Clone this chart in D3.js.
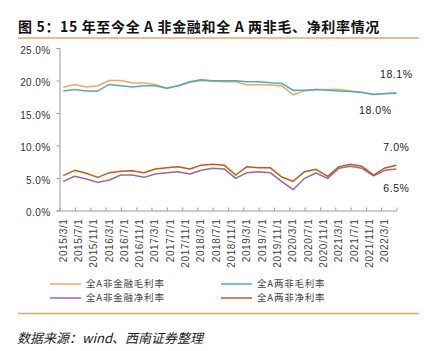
<!DOCTYPE html>
<html><head><meta charset="utf-8">
<script src="https://cdn.jsdelivr.net/npm/d3@7"></script>
<style>
html,body{margin:0;padding:0;background:#fff;}
svg{display:block;}
</style></head>
<body>
<svg id="chart" width="430" height="351"></svg>
<script>
const quarters = ["2015-03-31","2015-06-30","2015-09-30","2015-12-31","2016-03-31","2016-06-30","2016-09-30","2016-12-31","2017-03-31","2017-06-30","2017-09-30","2017-12-31","2018-03-31","2018-06-30","2018-09-30","2018-12-31","2019-03-31","2019-06-30","2019-09-30","2019-12-31","2020-03-31","2020-06-30","2020-09-30","2020-12-31","2021-03-31","2021-06-30","2021-09-30","2021-12-31","2022-03-31","2022-06-30"];
const grossNonFin = [18.95,19.4,19.0,19.2,20.0,20.0,19.6,19.6,19.4,18.8,19.2,19.7,20.0,19.9,19.8,19.8,19.3,19.4,19.3,19.2,17.8,18.4,18.6,18.6,18.6,18.4,18.2,17.9,17.95,18.0];
const grossTwoNon = [18.4,18.6,18.4,18.4,19.4,19.2,19.0,19.2,19.2,18.8,19.2,19.8,20.1,19.95,19.95,19.95,19.8,19.8,19.65,19.55,18.5,18.5,18.6,18.5,18.4,18.3,18.15,17.85,18.0,18.1];
const netNonFin = [4.49,5.26,4.85,4.33,4.69,5.46,5.46,5.10,5.62,5.82,5.97,5.62,6.18,6.5,6.4,4.95,5.82,5.97,5.82,4.49,3.2,4.95,5.77,4.95,6.5,6.8,6.5,5.33,6.18,6.4];
const netTwoNon = [5.36,6.18,5.72,5.10,5.82,6.03,6.13,5.82,6.38,6.59,6.74,6.38,6.98,7.1,6.98,5.46,6.74,6.59,6.59,5.15,4.5,5.97,6.33,5.25,6.75,7.12,6.8,5.43,6.55,6.95];
const seriesNames = ["全A非金融毛利率","全A两非毛利率","全A非金融净利率","全A两非净利率"];
const seriesColors = ["#F9A55A","#4BACC6","#8E6BB0","#C55A11"];
const xTickLabels = ["2015/3/1","2015/7/1","2015/11/1","2016/3/1","2016/7/1","2016/11/1","2017/3/1","2017/7/1","2017/11/1","2018/3/1","2018/7/1","2018/11/1","2019/3/1","2019/7/1","2019/11/1","2020/3/1","2020/7/1","2020/11/1","2021/3/1","2021/7/1","2021/11/1","2022/3/1"];
const yTickValues = [0,5,10,15,20,25];
const yTickLabels = ["0.0%","5.0%","10.0%","15.0%","20.0%","25.0%"];
const endLabels = ["18.0%","18.1%","6.5%","7.0%"];
const title = "图 5：15 年至今全 A 非金融和全 A 两非毛、净利率情况";
const source = "数据来源：wind、西南证券整理";

const svg = d3.select("#chart");
const cjk = "'Noto Sans CJK SC','Noto Sans',sans-serif";
const latin = "'Liberation Sans',Arial,sans-serif";

const parse = d3.timeParse("%Y-%m-%d");
const dates = quarters.map(parse);
const x = d3.scaleTime().domain([new Date(2015,2,1), new Date(2022,6,1)]).range([59.5, 396.5]);
const y = d3.scaleLinear().domain([0,25]).range([210.5, 48]);

// title
svg.append("text").attr("x",18).attr("y",32).attr("font-family",cjk).attr("font-weight","bold")
  .attr("font-size",14).attr("letter-spacing","0.65").attr("fill","#111").text(title);
svg.append("line").attr("x1",18).attr("x2",419).attr("y1",38).attr("y2",38).attr("stroke","#E3A869").attr("stroke-width",1.5);
svg.append("line").attr("x1",18).attr("x2",419).attr("y1",313.5).attr("y2",313.5).attr("stroke","#E3A869").attr("stroke-width",1.5);
svg.append("text").attr("x",17).attr("y",343).attr("font-family",cjk).attr("font-style","italic")
  .attr("font-size",13).attr("fill","#222").text(source);

// y axis
const yAxis = d3.axisLeft(y).tickValues(yTickValues).tickSize(3).tickFormat((d,i)=>yTickLabels[i]);
const gy = svg.append("g").attr("transform","translate(59.5,0)").call(yAxis);
gy.select(".domain").attr("stroke","#999");
gy.selectAll(".tick line").attr("stroke","#999");
gy.selectAll(".tick text").attr("x",-9).attr("dy","0.5em").attr("font-family",latin).attr("font-size",10)
  .attr("letter-spacing","0.4").attr("fill","#333");

// x axis
const tickDates = d3.range(xTickLabels.length+1).map(k => new Date(2015, 2+4*k, 1));
const xAxis = d3.axisBottom(x).tickValues(tickDates).tickSizeInner(-3).tickSizeOuter(0)
  .tickFormat((d,i)=> i < xTickLabels.length ? xTickLabels[i] : "");
const gx = svg.append("g").attr("transform","translate(0,210.5)").call(xAxis);
gx.select(".domain").attr("stroke","#999");
gx.selectAll(".tick line").attr("stroke","#999");
gx.selectAll(".tick text").attr("transform","rotate(-90)").attr("text-anchor","end")
  .attr("x",-8).attr("y",3).attr("dy","0.35em").attr("font-family",latin).attr("font-size",10)
  .attr("letter-spacing","0.6").attr("fill","#444");

// lines
const allSeries = [grossNonFin, grossTwoNon, netNonFin, netTwoNon];
const line = d3.line().x((d,i)=>x(dates[i])).y(d=>y(d));
allSeries.forEach((s,k)=>{
  svg.append("path").datum(s).attr("d",line).attr("fill","none")
    .attr("stroke",seriesColors[k]).attr("stroke-width",1.5).attr("stroke-linejoin","round");
});

// end labels
const last = dates.length-1;
const lx = x(dates[last]);
const endOffsets = [[-21,17],[0,-19],[0,19],[0,-18.5]];
allSeries.forEach((s,k)=>{
  svg.append("text").attr("x",lx+endOffsets[k][0]).attr("y",y(s[last])+endOffsets[k][1])
    .attr("dy","0.35em").attr("text-anchor","middle").attr("font-family",latin).attr("font-size",10.5)
    .attr("letter-spacing","0.6").attr("fill","#222").text(endLabels[k]);
});

// legend
const legPos = [[50,284],[221,284],[50,298],[221,298]];
seriesNames.forEach((n,k)=>{
  const [lx0,ly] = legPos[k];
  svg.append("line").attr("x1",lx0).attr("x2",lx0+31).attr("y1",ly).attr("y2",ly)
    .attr("stroke",seriesColors[k]).attr("stroke-width",1.5);
  svg.append("text").attr("x",lx0+36).attr("y",ly).attr("dy","0.35em").attr("font-family",cjk)
    .attr("font-size",9.5).attr("letter-spacing","0.8").attr("fill","#444").text(n);
});
</script>
</body></html>
